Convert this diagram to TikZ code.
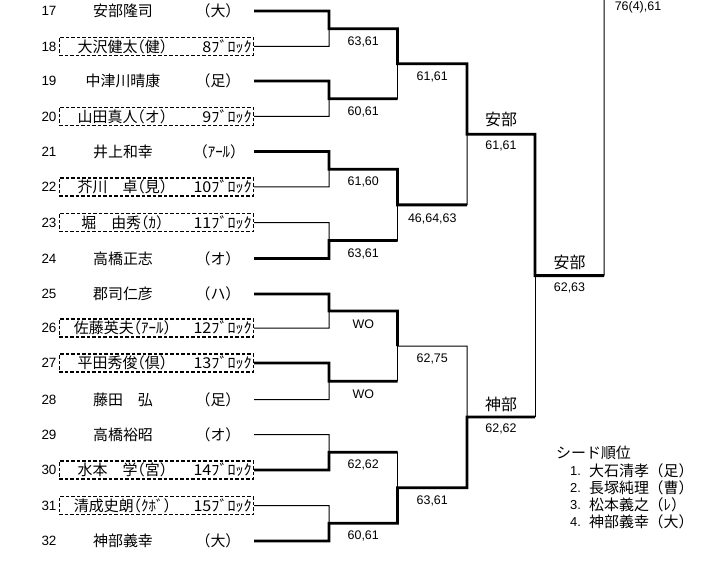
\documentclass[tikz,border=0pt]{standalone}
\usepackage{fontspec}
\setmainfont[RawFeature=+halt]{Noto Sans CJK JP}
\newfontfamily\numfont{Liberation Sans}
\newfontfamily\blkfont[FakeStretch=1.08]{Noto Sans CJK JP}
\usetikzlibrary{calc}
\begin{document}
\begin{tikzpicture}[x=1bp,y=-1bp,
  thk/.style={line width=2.8bp, line join=miter},
  thn/.style={line width=1bp},
  nm/.style={font=\fontsize{15}{16}\selectfont, inner sep=0pt},
  lbl/.style={font=\fontsize{16}{17}\selectfont, inner sep=0pt},
  rownum/.style={font=\numfont\fontsize{13.5}{15}\selectfont, inner sep=0pt},
  scr/.style={font=\numfont\fontsize{12.5}{14}\selectfont, inner sep=0pt},
  blk/.style={font=\blkfont\fontsize{15}{16}\selectfont, inner sep=0pt, anchor=east},
  bx/.style={draw, dash pattern=on 3.5bp off 2bp, line width=1.2bp, minimum width=194bp, minimum height=18bp, inner sep=0pt, anchor=east},
]
\useasboundingbox (0,0) rectangle (718,563);
\fill[white] (0,0) rectangle (718,563);

% rows
\foreach \i/\y in {17/11,18/46.5,19/81,20/116.5,21/151.5,22/187,23/222.5,24/258.5,25/294,26/328,27/363,28/399.5,29/434.5,30/470,31/505.5,32/541}{
  \coordinate (p\i) at (254,\y);
  \coordinate (a\i) at (329,\y);
  \node[rownum] (k\i) at (49,\y) {\i};
}

% boxes
\foreach \i in {18,20,22,23,26,27,30,31}{
  \node[bx] (b\i) at (p\i) {};
}

% unboxed names
\node[nm] (n17) at (123,11) {安部隆司};   \node[nm] (c17) at (218,11) {（大）};
\node[nm] (n19) at (123,81) {中津川晴康}; \node[nm] (c19) at (218,81) {（足）};
\node[nm] (n21) at (123,151.5) {井上和幸}; \node[nm] (c21) at (219,151.5) {（ｱｰﾙ）};
\node[nm] (n24) at (123,258.5) {高橋正志}; \node[nm] (c24) at (218,258.5) {（オ）};
\node[nm] (n25) at (123,294) {郡司仁彦}; \node[nm] (c25) at (218,294) {（ハ）};
\node[nm] (n28) at (123,399.5) {藤田　弘}; \node[nm] (c28) at (218,399.5) {（足）};
\node[nm] (n29) at (123,434.5) {高橋裕昭}; \node[nm] (c29) at (218,434.5) {（オ）};
\node[nm] (n32) at (123,541) {神部義幸}; \node[nm] (c32) at (218,541) {（大）};

% boxed names
\node[nm] (n18) at (122.5,46.5) {大沢健太（健）};   \node[blk] (g18) at (252,46.5) {8ﾌﾞﾛｯｸ};
\node[nm] (n20) at (122.5,116.5) {山田真人（オ）};  \node[blk] (g20) at (252,116.5) {9ﾌﾞﾛｯｸ};
\node[nm] (n22) at (122.5,187) {芥川　卓（見）};    \node[blk] (g22) at (252,187) {10ﾌﾞﾛｯｸ};
\node[nm] (n23) at (122.5,222.5) {堀　由秀（ｶ）};   \node[blk] (g23) at (252,222.5) {11ﾌﾞﾛｯｸ};
\node[nm] (n26) at (122.5,328) {佐藤英夫（ｱｰﾙ）};   \node[blk] (g26) at (252,328) {12ﾌﾞﾛｯｸ};
\node[nm] (n27) at (122.5,363) {平田秀俊（倶）};    \node[blk] (g27) at (252,363) {13ﾌﾞﾛｯｸ};
\node[nm] (n30) at (122.5,470) {水本　学（宮）};    \node[blk] (g30) at (252,470) {14ﾌﾞﾛｯｸ};
\node[nm] (n31) at (122.5,505.5) {清成史朗（ｸﾎﾞ）}; \node[blk] (g31) at (252,505.5) {15ﾌﾞﾛｯｸ};

% round 1 junctions
\coordinate (M1) at ($(a17)!0.5!(a18)$);
\coordinate (M2) at ($(a19)!0.5!(a20)$);
\coordinate (M3) at ($(a21)!0.5!(a22)$);
\coordinate (M4) at ($(a23)!0.5!(a24)$);
\coordinate (M5) at ($(a25)!0.5!(a26)$);
\coordinate (M6) at ($(a27)!0.5!(a28)$);
\coordinate (M7) at ($(a29)!0.5!(a30)$);
\coordinate (M8) at ($(a31)!0.5!(a32)$);
\foreach \j in {1,...,8}{ \coordinate (N\j) at ($(M\j)+(68.5,0)$); }
% round 2
\coordinate (P1) at ($(N1)!0.5!(N2)$);
\coordinate (P2) at ($(N3)!0.5!(N4)$);
\coordinate (P3) at ($(N5)!0.5!(N6)$);
\coordinate (P4) at ($(N7)!0.5!(N8)$);
\foreach \j in {1,...,4}{ \coordinate (Q\j) at ($(P\j)+(69.5,0)$); }
% round 3
\coordinate (S1) at ($(Q1)!0.5!(Q2)$);
\coordinate (S2) at ($(Q3)!0.5!(Q4)$);
\coordinate (T1) at ($(S1)+(68,0)$);
\coordinate (T2) at ($(S2)+(68,0)$);
% round 4
\coordinate (U) at ($(T1)!0.5!(T2)$);
\coordinate (V) at ($(U)+(69,0)$);
\coordinate (W) at (604,0);

% thick (winner) paths
\draw[thk] (p17) -- (a17) -- (M1) -- (N1) -- (P1) -- (Q1) -- (S1) -- (T1) -- (U) -- (V);
\draw[thk] (p19) -- (a19) -- (M2) -- (N2);
\draw[thk] (p21) -- (a21) -- (M3) -- (N3) -- (P2) -- (Q2);
\draw[thk] (p24) -- (a24) -- (M4) -- (N4);
\draw[thk] (p25) -- (a25) -- (M5) -- (N5) -- (P3);
\draw[thk] (b27.east) -- (a27) -- (M6) -- (N6);
\draw[thk] (b30.east) -- (a30) -- (M7) -- (N7);
\draw[thk] (p32) -- (a32) -- (M8) -- (N8) -- (P4) -- (Q4) -- (S2) -- (T2);

% thin paths
\draw[thn] (b18.east) -- (a18) -- (M1);
\draw[thn] (b20.east) -- (a20) -- (M2);
\draw[thn] (b22.east) -- (a22) -- (M3);
\draw[thn] (b23.east) -- (a23) -- (M4);
\draw[thn] (b26.east) -- (a26) -- (M5);
\draw[thn] (p28) -- (a28) -- (M6);
\draw[thn] (p29) -- (a29) -- (M7);
\draw[thn] (b31.east) -- (a31) -- (M8);
\draw[thn] (N2) -- (P1);
\draw[thn] (N4) -- (P2);
\draw[thn] (Q2) -- (S1);
\draw[thn] (N6) -- (P3);
\draw[thn] (P3) -- (Q3) -- (S2);
\draw[thn] (N7) -- (P4);
\draw[thn] (T2) -- (U);
\draw[thn] (V) -- (W);

% scores
\path (M1) -- (N1) node[scr, midway, yshift=-13bp] (s1) {63,61};
\path (M2) -- (N2) node[scr, midway, yshift=-13bp] (s2) {60,61};
\path (M3) -- (N3) node[scr, midway, yshift=-13bp] (s3) {61,60};
\path (M4) -- (N4) node[scr, midway, yshift=-13bp] (s4) {63,61};
\path (M5) -- (N5) node[scr, midway, yshift=-13bp] (s5) {WO};
\path (M6) -- (N6) node[scr, midway, yshift=-13bp] (s6) {WO};
\path (M7) -- (N7) node[scr, midway, yshift=-13bp] (s7) {62,62};
\path (M8) -- (N8) node[scr, midway, yshift=-13bp] (s8) {60,61};
\path (P1) -- (Q1) node[scr, midway, yshift=-13bp] (r1) {61,61};
\path (P2) -- (Q2) node[scr, midway, yshift=-14bp] (r2) {46,64,63};
\path (P3) -- (Q3) node[scr, midway, yshift=-13bp] (r3) {62,75};
\path (P4) -- (Q4) node[scr, midway, yshift=-13bp] (r4) {63,61};
\path (S1) -- (T1) node[lbl, midway, yshift=15bp] (w1) {安部} node[scr, midway, yshift=-12bp] (t1) {61,61};
\path (S2) -- (T2) node[lbl, midway, yshift=12bp] (w2) {神部} node[scr, midway, yshift=-12bp] (t2) {62,62};
\path (U) -- (V) node[lbl, midway, yshift=13bp] (w3) {安部} node[scr, midway, yshift=-12bp] (t3) {62,63};
\node[scr] (fin) at (638,7) {76(4),61};

% seed list
\node[nm, anchor=west] (lgh) at (556,453) {シード順位};
\foreach \k/\nn/\cc/\yy in {1/大石清孝/足/471, 2/長塚純理/曹/488, 3/松本義之/ﾚ/505, 4/神部義幸/大/522}{
  \node[scr, font=\numfont\fontsize{13}{14}\selectfont, anchor=west] (ln\k) at (570,\yy) {\k.};
  \node[nm, anchor=west] (lm\k) at (589,\yy) {\nn};
  \node[nm, anchor=west] (lc\k) at (656,\yy) {（\cc）};
}
\end{tikzpicture}
\end{document}
